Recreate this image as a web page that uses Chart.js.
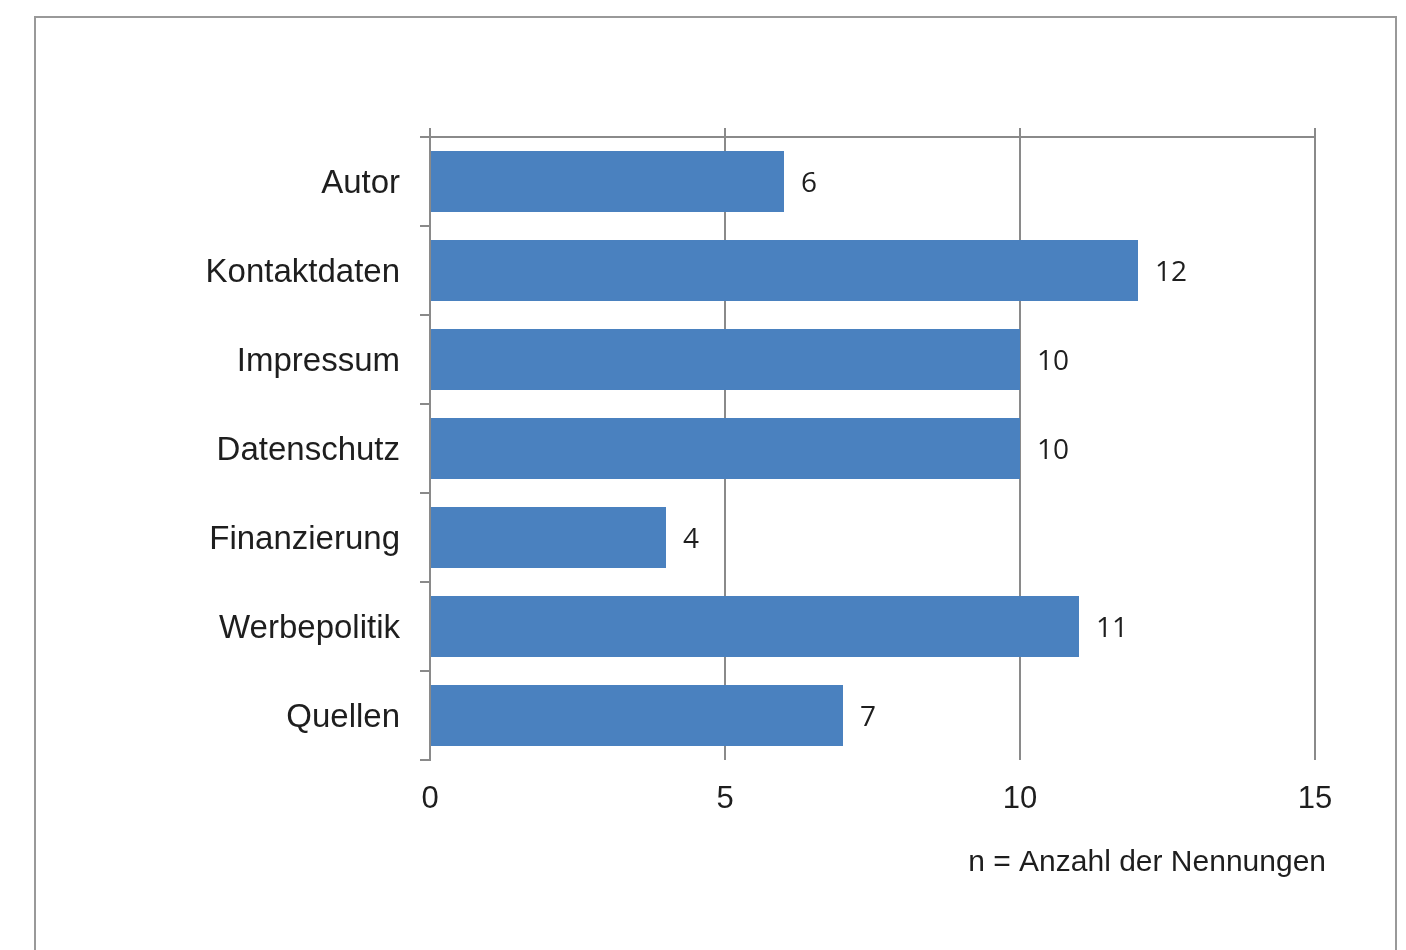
<!DOCTYPE html>
<html>
<head>
<meta charset="utf-8">
<script src="https://cdn.jsdelivr.net/npm/chart.js@4.4.1/dist/chart.umd.min.js"></script>
<style>
  body { margin: 0; background: #fff; }
  .frame { position: absolute; left: 34px; top: 16px; width: 1359px; height: 1000px; border: 2px solid #999; }
  .wrap { position: absolute; left: 0; top: 0; width: 1406px; height: 950px; }
</style>
</head>
<body>
<div class="frame"></div>
<div class="wrap"><canvas id="myChart" width="1406" height="950"></canvas></div>
<script>
const categories = ['Autor', 'Kontaktdaten', 'Impressum', 'Datenschutz', 'Finanzierung', 'Werbepolitik', 'Quellen'];
const values = [6, 12, 10, 10, 4, 11, 7];
const axisMax = 15;
const axisStep = 5;
const footnote = 'n = Anzahl der Nennungen';

const gray = '#8a8a8a';
const textColor = '#1e1e1e';

// Werte rechts neben den Balken
const valueLabels = {
  id: 'valueLabels',
  afterDatasetsDraw(chart) {
    const c = chart.ctx;
    const meta = chart.getDatasetMeta(0);
    c.save();
    c.font = '28px "Open Sans"';
    c.fillStyle = textColor;
    c.textAlign = 'left';
    c.textBaseline = 'middle';
    meta.data.forEach((bar, i) => {
      c.fillText(String(values[i]), bar.x + 17, bar.y + 3);
    });
    c.restore();
  }
};

// Fußnote unten rechts
const footnoteText = {
  id: 'footnoteText',
  afterDraw(chart) {
    const c = chart.ctx;
    const area = chart.chartArea;
    c.save();
    c.font = '30px "Liberation Sans"';
    c.fillStyle = textColor;
    c.textAlign = 'right';
    c.textBaseline = 'middle';
    c.fillText(footnote, area.right + 11, area.bottom + 103);
    c.restore();
  }
};

const ctx = document.getElementById('myChart');

new Chart(ctx, {
  type: 'bar',
  data: {
    labels: categories,
    datasets: [{
      data: values,
      backgroundColor: '#4a81bf',
      borderWidth: 0,
      categoryPercentage: 1,
      barPercentage: 0.685
    }]
  },
  options: {
    indexAxis: 'y',
    responsive: false,
    animation: false,
    layout: {
      padding: { left: 0, right: 91, top: 128, bottom: 130 }
    },
    plugins: {
      legend: { display: false },
      tooltip: { enabled: false }
    },
    scales: {
      x: {
        position: 'bottom',
        min: 0,
        max: axisMax,
        ticks: {
          stepSize: axisStep,
          padding: 21,
          color: textColor,
          font: { family: 'Liberation Sans', size: 31 }
        },
        grid: {
          color: gray,
          lineWidth: 2,
          drawTicks: false
        },
        border: { display: false },
        afterFit(scale) { scale.height = 60; }
      },
      x2: {
        position: 'top',
        min: 0,
        max: axisMax,
        ticks: { display: false, stepSize: axisStep },
        grid: {
          color: gray,
          lineWidth: 2,
          drawOnChartArea: false,
          tickLength: 9
        },
        border: { display: true, color: gray, width: 2 },
        afterFit(scale) { scale.height = 9; }
      },
      y: {
        position: 'left',
        ticks: {
          padding: 20,
          color: textColor,
          font: { family: 'Liberation Sans', size: 33 },
          labelOffset: 2
        },
        grid: {
          offset: true,
          color: gray,
          lineWidth: 2,
          drawOnChartArea: false,
          tickLength: 10
        },
        border: { display: true, color: gray, width: 2 },
        afterFit(scale) { scale.width = 430; }
      }
    }
  },
  plugins: [valueLabels, footnoteText]
});
</script>
</body>
</html>
